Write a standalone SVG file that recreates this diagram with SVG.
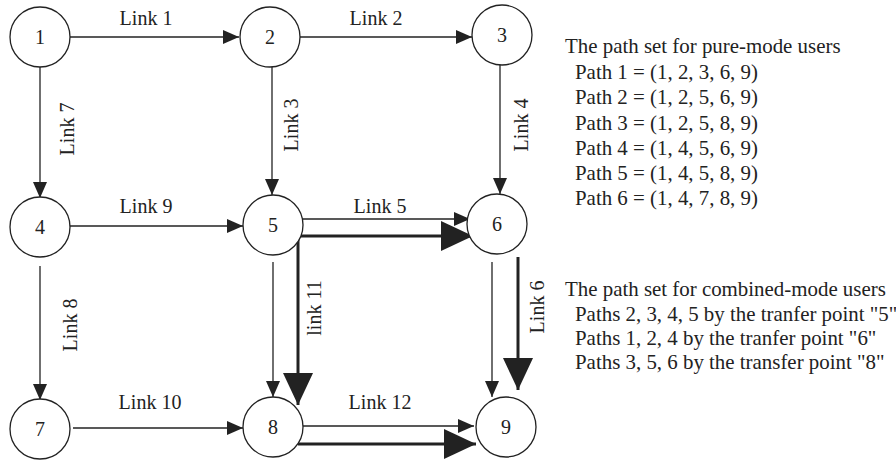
<svg xmlns="http://www.w3.org/2000/svg" width="896" height="462" viewBox="0 0 896 462">
  <style>
    .node circle { fill: #fff; stroke: #222; stroke-width: 1.3; }
    .node text { font-family: "Liberation Serif", "Times New Roman", serif; font-size: 20px; fill: #222; text-anchor: middle; dominant-baseline: central; }
    .thin { stroke: #222; stroke-width: 1.3; fill: none; marker-end: url(#headThin); }
    .thick { stroke: #222; stroke-width: 3; fill: none; marker-end: url(#headThick); }
    .lbl { font-family: "Liberation Serif", "Times New Roman", serif; font-size: 20px; fill: #222; text-anchor: middle; }
    .txt { font-family: "Liberation Serif", "Times New Roman", serif; font-size: 20.9px; fill: #222; }
  </style>
  <defs>
    <marker id="headThin" markerUnits="userSpaceOnUse" markerWidth="16" markerHeight="14" refX="16" refY="7" orient="auto">
      <path d="M0,0 L16,7 L0,14 z" fill="#222"/>
    </marker>
    <marker id="headThick" markerUnits="userSpaceOnUse" markerWidth="32" markerHeight="30" refX="32" refY="15" orient="auto">
      <path d="M0,0 L32,15 L0,30 z" fill="#222"/>
    </marker>
  </defs>

  <rect width="896" height="462" fill="#fff"/>

  <!-- links -->
  <g id="connectors">
    <line class="thin" x1="70" y1="37" x2="239" y2="37"/>
    <line class="thin" x1="300" y1="37" x2="472" y2="37"/>
    <line class="thin" x1="272" y1="67" x2="272" y2="195"/>
    <line class="thin" x1="500" y1="65" x2="500" y2="194"/>
    <line class="thin" x1="40" y1="67" x2="40" y2="198"/>
    <line class="thin" x1="40" y1="266" x2="40" y2="400"/>
    <line class="thin" x1="66" y1="226" x2="243" y2="226"/>
    <line class="thin" x1="73" y1="428" x2="243" y2="428"/>
    <line class="thin" x1="303" y1="219" x2="470" y2="219"/>
    <line class="thin" x1="273" y1="262" x2="273" y2="397"/>
    <line class="thin" x1="492" y1="262" x2="492" y2="397"/>
    <line class="thin" x1="303" y1="426" x2="474" y2="426"/>
    <!-- highlighted route -->
    <line class="thick" x1="297" y1="236" x2="473" y2="236"/>
    <line class="thick" x1="298" y1="236" x2="298" y2="405"/>
    <line class="thick" x1="518" y1="257" x2="518" y2="390"/>
    <line class="thick" x1="298" y1="444" x2="476" y2="444"/>

    <text class="lbl" x="146" y="25">Link 1</text>
    <text class="lbl" x="376" y="25">Link 2</text>
    <text class="lbl" transform="translate(298,125) rotate(-90)">Link 3</text>
    <text class="lbl" transform="translate(528,125) rotate(-90)">Link 4</text>
    <text class="lbl" transform="translate(74,129) rotate(-90)">Link 7</text>
    <text class="lbl" transform="translate(77,325) rotate(-90)">Link 8</text>
    <text class="lbl" x="146" y="213">Link 9</text>
    <text class="lbl" x="150" y="409">Link 10</text>
    <text class="lbl" x="380" y="213">Link 5</text>
    <text class="lbl" x="380" y="409">Link 12</text>
    <text class="lbl" transform="translate(321,308) rotate(-90)">link 11</text>
    <text class="lbl" transform="translate(544,307) rotate(-90)">Link 6</text>
  </g>

  <!-- nodes -->
  <g id="n1" class="node"><circle cx="40" cy="37" r="30"/><text x="40" y="37">1</text></g>
  <g id="n2" class="node"><circle cx="270" cy="37" r="30"/><text x="270" y="37">2</text></g>
  <g id="n3" class="node"><circle cx="502" cy="35" r="30"/><text x="502" y="35">3</text></g>
  <g id="n4" class="node"><circle cx="40" cy="227" r="30"/><text x="40" y="227">4</text></g>
  <g id="n5" class="node"><circle cx="273" cy="225" r="30"/><text x="273" y="225">5</text></g>
  <g id="n6" class="node"><circle cx="497" cy="224" r="30"/><text x="497" y="224">6</text></g>
  <g id="n7" class="node"><circle cx="40" cy="429" r="30"/><text x="40" y="429">7</text></g>
  <g id="n8" class="node"><circle cx="273" cy="427" r="30"/><text x="273" y="427">8</text></g>
  <g id="n9" class="node"><circle cx="506" cy="427" r="30"/><text x="506" y="427">9</text></g>

  <!-- path sets -->
  <g id="pure-mode">
    <text class="txt" x="565" y="53">The path set for pure-mode users</text>
    <text class="txt" x="575" y="79">Path 1 = (1, 2, 3, 6, 9)</text>
    <text class="txt" x="575" y="104">Path 2 = (1, 2, 5, 6, 9)</text>
    <text class="txt" x="575" y="130">Path 3 = (1, 2, 5, 8, 9)</text>
    <text class="txt" x="575" y="155">Path 4 = (1, 4, 5, 6, 9)</text>
    <text class="txt" x="575" y="180">Path 5 = (1, 4, 5, 8, 9)</text>
    <text class="txt" x="575" y="205">Path 6 = (1, 4, 7, 8, 9)</text>
  </g>
  <g id="combined-mode">
    <text class="txt" x="565" y="296">The path set for combined-mode users</text>
    <text class="txt" x="575" y="321">Paths 2, 3, 4, 5 by the tranfer point "5"</text>
    <text class="txt" x="575" y="345">Paths 1, 2, 4 by the tranfer point "6"</text>
    <text class="txt" x="575" y="369">Paths 3, 5, 6 by the transfer point "8"</text>
  </g>
</svg>
